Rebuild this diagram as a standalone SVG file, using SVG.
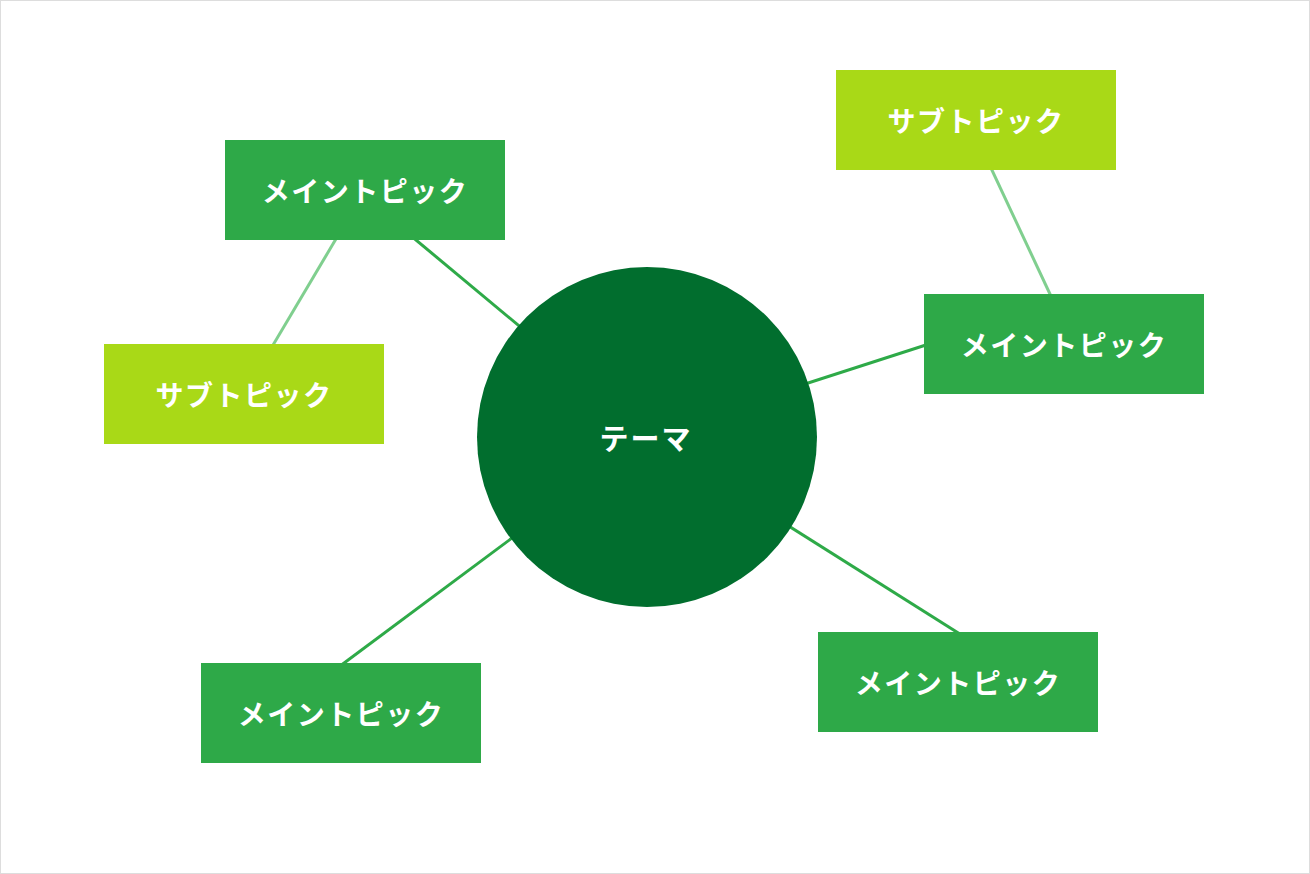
<svg xmlns="http://www.w3.org/2000/svg" width="1310" height="874" viewBox="0 0 1310 874">
<style>
.main{fill:#2ea948}
.sub{fill:#a9d917}
.lbl{font-family:"Noto Sans CJK JP","Noto Sans",sans-serif;font-size:28px;font-weight:700;fill:#ffffff;text-anchor:middle;dominant-baseline:central;letter-spacing:1.5px}
.big{font-size:29px;letter-spacing:2px}
.c1{stroke:#2eaa48;stroke-width:3;fill:none}
.c2{stroke:#80cf8f;stroke-width:3;fill:none}
</style>
<rect x="0.5" y="0.5" width="1309" height="873" fill="#ffffff" stroke="#dddddd" stroke-width="1"/>
<g id="connectors">
<line class="c1" x1="380" y1="210" x2="560" y2="360"/>
<line class="c2" x1="244" y1="394" x2="365" y2="190"/>
<line class="c1" x1="760" y1="398.5" x2="960" y2="334"/>
<line class="c2" x1="976" y1="136" x2="1064" y2="324"/>
<line class="c1" x1="700" y1="470" x2="990" y2="653"/>
<line class="c1" x1="600" y1="472.5" x2="330" y2="673.5"/>
</g>
<g id="theme">
<circle cx="647" cy="437" r="170" fill="#016e2e"/>
<text class="lbl big" x="646" y="437">テーマ</text>
</g>
<g id="main-tl">
<rect class="main" x="225" y="140" width="280" height="100"/>
<text class="lbl" x="365" y="190">メイントピック</text>
</g>
<g id="sub-l">
<rect class="sub" x="104" y="344" width="280" height="100"/>
<text class="lbl" x="244" y="394">サブトピック</text>
</g>
<g id="sub-tr">
<rect class="sub" x="836" y="70" width="280" height="100"/>
<text class="lbl" x="976" y="120">サブトピック</text>
</g>
<g id="main-r">
<rect class="main" x="924" y="294" width="280" height="100"/>
<text class="lbl" x="1064" y="344">メイントピック</text>
</g>
<g id="main-br">
<rect class="main" x="818" y="632" width="280" height="100"/>
<text class="lbl" x="958" y="682">メイントピック</text>
</g>
<g id="main-bl">
<rect class="main" x="201" y="663" width="280" height="100"/>
<text class="lbl" x="341" y="713">メイントピック</text>
</g>
</svg>
